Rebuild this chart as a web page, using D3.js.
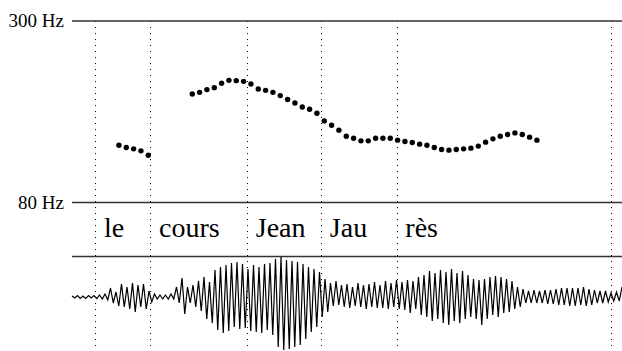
<!DOCTYPE html>
<html>
<head>
<meta charset="utf-8">
<script src="https://cdn.jsdelivr.net/npm/d3@7"></script>
<style>
  html, body { margin: 0; padding: 0; background: #fff; }
  svg { display: block; }
  .serif { font-family: "Liberation Serif", "Times New Roman", "DejaVu Serif", serif; }
</style>
</head>
<body>
<svg id="chart" width="622" height="351"></svg>
<script>
// ---------- data ----------
const yTicks = [80, 300];                       // Hz
const syllables = ["le", "cours", "Jean", "Jau", "rès"];
const boundaries = [32, 107, 239, 340, 443, 735]; // ms

const f0TimesA = [64, 74, 84, 94, 104];
const f0ValuesA = [121.0, 119.0, 117.8, 116.1, 112.5];

const f0TimesB = [164, 174, 184, 194, 204, 214, 224, 234, 244, 254, 264, 274,
  284, 294, 304, 314, 324, 334, 344, 354, 364, 374, 384, 394, 404, 414, 424, 434,
  444, 454, 464, 474, 484, 494, 504, 514, 524, 534, 544, 554, 564, 574, 584, 594,
  604, 614, 624, 634];
const f0ValuesB = [175.7, 177.8, 181.4, 184.0, 189.9, 194.0, 193.6, 192.6, 188.9,
  182.2, 180.4, 177.8, 173.6, 168.7, 164.5, 159.8, 157.2, 152.7, 144.4, 139.9,
  135.0, 129.2, 127.3, 124.9, 124.9, 127.3, 127.3, 127.3, 125.5, 124.3, 123.4,
  121.9, 121.0, 119.0, 117.3, 116.7, 117.3, 117.8, 118.4, 120.2, 123.7, 126.7,
  129.2, 130.8, 132.3, 130.8, 128.3, 125.5];

// waveform peak envelope (arbitrary amplitude units), one pair every waveStep ms
const waveStep = 7.5;
const waveUp = [1, 1.5, 1, 1.5, 1.5, 2, 3, 9, 5, 13, 10, 14, 12, 13, 6, 3, 2, 2, 3, 10,
  19, 10, 12, 16, 20, 15, 27, 30, 32, 34, 35, 33, 28, 32, 30, 33, 34, 38, 40, 37,
  36, 35, 33, 30, 28, 25, 18, 14, 16, 12, 13, 10, 14, 12, 13, 15, 12, 16, 14, 17,
  15, 17, 16, 20, 22, 26, 24, 27, 25, 28, 24, 26, 22, 18, 17, 18, 20, 21, 20, 18,
  16, 10, 8, 6, 7, 6, 7, 7, 8, 9, 9, 9, 9, 10, 8, 7, 6, 6, 4, 5, 10];
const waveDown = [-1, -1.5, -1.5, -1, -1.5, -2, -3, -6, -9, -10, -12, -15, -10, -12,
  -5, -2, -2, -2, -2, -6, -17, -6, -10, -14, -22, -26, -33, -36, -34, -30, -32, -31,
  -34, -35, -36, -33, -38, -50, -53, -52, -50, -48, -42, -35, -30, -20, -15, -9, -8,
  -10, -11, -9, -10, -12, -10, -11, -11, -12, -10, -12, -13, -16, -12, -18, -20, -24,
  -22, -26, -28, -24, -26, -22, -20, -22, -28, -22, -18, -20, -16, -15, -12, -10, -6,
  -6, -6, -6, -7, -7, -8, -8, -9, -9, -8, -9, -8, -6, -6, -5, -4, -4, -12];

// ---------- layout ----------
const svg = d3.select("#chart");
const left = 72, right = 622;
const x = d3.scaleLinear().domain([0, 750]).range([left, right]);
const y = d3.scaleLog().domain([80, 300]).range([202, 20.5]);
const amp = d3.scaleLinear().domain([-55, 55]).range([352, 242]);
const sepY = 256.5;

// dotted boundaries
svg.append("g").selectAll("line").data(boundaries).join("line")
  .attr("x1", d => Math.round(x(d)) + 0.5).attr("x2", d => Math.round(x(d)) + 0.5)
  .attr("y1", 21).attr("y2", 348)
  .attr("stroke", "#000").attr("stroke-width", 1)
  .attr("stroke-dasharray", "1,5");

// y axis with full-width lines
const yAxis = d3.axisLeft(y).tickValues(yTicks)
  .tickFormat(d => d + " Hz").tickSize(-(right - left)).tickPadding(8);
const gy = svg.append("g").attr("transform", `translate(${left},0)`).call(yAxis);
gy.attr("font-family", null).attr("font-size", null);
gy.select(".domain").remove();
gy.selectAll(".tick line").attr("stroke", "#333").attr("stroke-width", 1.3);
gy.selectAll(".tick text").attr("class", "serif").style("font-size", "19px")
  .attr("fill", "#000");

// separator line
svg.append("line").attr("x1", left).attr("x2", right)
  .attr("y1", sepY).attr("y2", sepY)
  .attr("stroke", "#333").attr("stroke-width", 1.3);

// syllable labels
svg.append("g").selectAll("text").data(syllables).join("text")
  .attr("class", "serif")
  .attr("x", (d, i) => x(boundaries[i]) + 8.5)
  .attr("y", 237)
  .style("font-size", "28px").attr("fill", "#000")
  .text(d => d);

// F0 dots
const pts = f0TimesA.map((t, i) => ({ t, f: f0ValuesA[i] }))
  .concat(f0TimesB.map((t, i) => ({ t, f: f0ValuesB[i] })));
svg.append("g").selectAll("circle").data(pts).join("circle")
  .attr("cx", d => x(d.t)).attr("cy", d => y(d.f)).attr("r", 2.7)
  .attr("fill", "#000");

// waveform
const wpts = [];
waveUp.forEach((u, i) => {
  wpts.push([i * waveStep, u]);
  wpts.push([i * waveStep + waveStep / 2, waveDown[i]]);
});
const line = d3.line().x(d => x(d[0])).y(d => amp(d[1]));
svg.append("path").datum(wpts.filter(d => d[0] <= 750))
  .attr("d", line).attr("fill", "none")
  .attr("stroke", "#000").attr("stroke-width", 1.2);
</script>
</body>
</html>
